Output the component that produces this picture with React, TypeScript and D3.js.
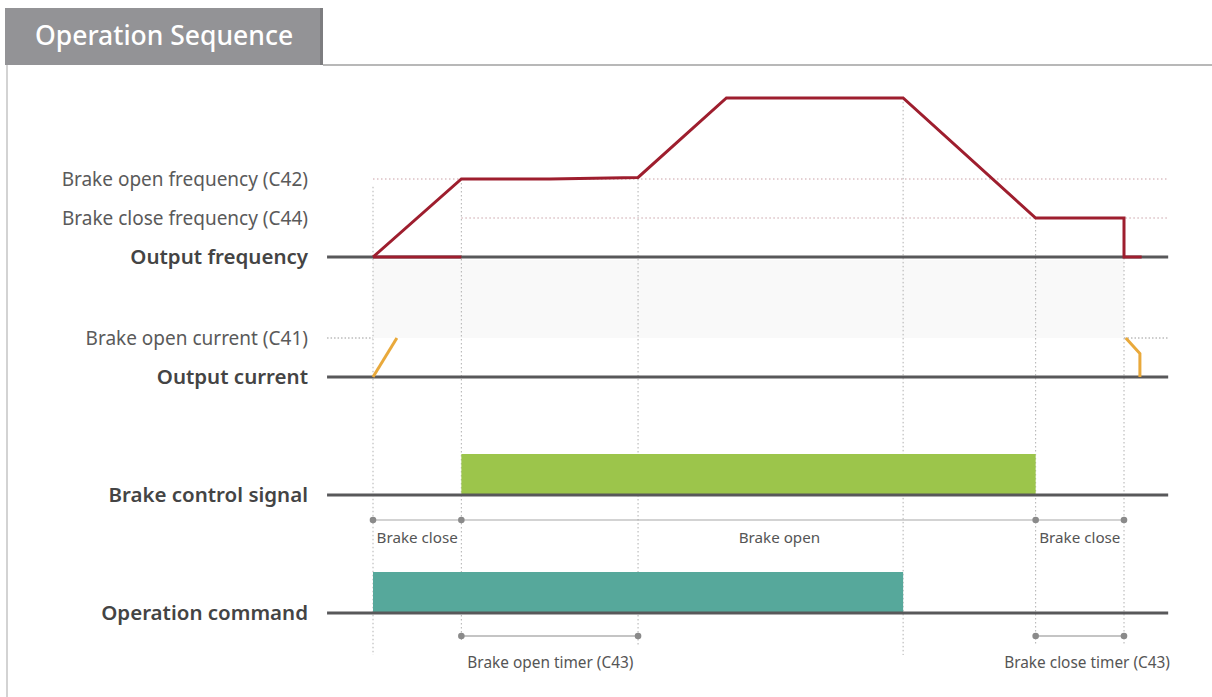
import React from "react";
import * as d3 from "d3";

// time events (arbitrary units)
const eventTimes = [0, 1, 3, 6, 7.5, 8.5];
// output frequency profile [time, level]
const freqProfile: [number, number][] = [[0, 0], [1, 1], [2, 1], [3, 1.02], [4, 2.04], [6, 2.04], [7.5, 0.5], [8.5, 0.5], [8.5, 0], [8.7, 0]];
const freqBase: [number, number][] = [[0, 0], [1, 0]];
// output current segments
const currentStart: [number, number][] = [[0, 0], [0.27, 1]];
const currentEnd: [number, number][] = [[8.52, 1], [8.68, 0.6], [8.68, 0]];
// signals [start, end]
const brakeSignal: [number, number] = [1, 7.5];
const opCommand: [number, number] = [0, 6];
const leftLabels = [
  { text: "Brake open frequency (C42)", row: "fC42", bold: false },
  { text: "Brake close frequency (C44)", row: "fC44", bold: false },
  { text: "Output frequency", row: "f0", bold: true },
  { text: "Brake open current (C41)", row: "iC41", bold: false },
  { text: "Output current", row: "i0", bold: true },
  { text: "Brake control signal", row: "b0", bold: true },
  { text: "Operation command", row: "o0", bold: true },
];
const stateMarkers = [0, 1, 7.5, 8.5];
const stateLabels = [
  { text: "Brake close", at: 0.5 },
  { text: "Brake open", at: 4.6 },
  { text: "Brake close", at: 8.0 },
];
const timerRanges = [
  { text: "Brake open timer (C43)", from: 1, to: 3 },
  { text: "Brake close timer (C43)", from: 7.5, to: 8.5 },
];

const FONT = "'Noto Sans', 'Open Sans', sans-serif";

export default function App() {
  const W = 1212, H = 697;
  const x = d3.scaleLinear().domain([0, 8.5]).range([373, 1124]);
  const yF = d3.scaleLinear().domain([0, 1]).range([257, 179]);
  const yI = d3.scaleLinear().domain([0, 1]).range([377, 338]);
  const rows: Record<string, number> = {
    fC42: yF(1), fC44: yF(0.5), f0: yF(0), iC41: yI(1), i0: yI(0), b0: 495, o0: 613,
  };
  const line = (ys: d3.ScaleLinear<number, number>) =>
    d3.line<[number, number]>().x((d) => x(d[0])).y((d) => ys(d[1]));
  const axisX0 = x(-0.52), axisX1 = x(9);
  const stateY = 520, timerY = 636;
  const vTop = [yF(0.9), yF(1), yF(1), yF(2.04), yF(0.5), yF(0.5)];
  const vBot = [655, 640, 645, 655, 645, 645];
  const dark = "#58585a";
  const red = "#9e1e2e";
  return (
    <svg width={W} height={H} style={{ position: "absolute", left: 0, top: 0, background: "#fff" }} fontFamily={FONT}>
      {/* header */}
      <rect x={5} y={8} width={318} height={57} fill="#939396" />
      <rect x={320} y={8} width={3} height={57} fill="#7d7d80" />
      <text x={35} y={45} fill="#fff" fontSize={26.5} fontWeight={500}>Operation Sequence</text>
      <line x1={323} x2={1212} y1={65} y2={65} stroke="#a0a0a0" strokeWidth={1.5} />
      <line x1={7} x2={7} y1={65} y2={697} stroke="#c4c4c4" strokeWidth={1.5} />

      {/* background band */}
      <rect x={x(0)} y={yF(0) + 3} width={x(8.5) - x(0)} height={yI(1) - yF(0) - 3} fill="#f9f9f9" />

      {/* dotted guides */}
      <line x1={x(0)} x2={axisX1} y1={yF(1)} y2={yF(1)} stroke="#c9a0a6" strokeWidth={1} strokeDasharray="1.5,2.5" />
      <line x1={x(1)} x2={axisX1} y1={yF(0.5)} y2={yF(0.5)} stroke="#c9a0a6" strokeWidth={1} strokeDasharray="1.5,2.5" />
      <line x1={axisX0} x2={x(0)} y1={yI(1)} y2={yI(1)} stroke="#999" strokeWidth={1} strokeDasharray="1.5,2" />
      <line x1={x(8.5)} x2={axisX1} y1={yI(1)} y2={yI(1)} stroke="#999" strokeWidth={1} strokeDasharray="1.5,2" />
      {eventTimes.map((t, i) => (
        <line key={i} x1={x(t)} x2={x(t)} y1={vTop[i]} y2={vBot[i]} stroke="#b0b0b0" strokeWidth={1} strokeDasharray="1.5,2.5" />
      ))}

      {/* signal blocks */}
      <rect x={x(brakeSignal[0])} y={454} width={x(brakeSignal[1]) - x(brakeSignal[0])} height={41} fill="#9cc54b" />
      <rect x={x(opCommand[0])} y={572} width={x(opCommand[1]) - x(opCommand[0])} height={41} fill="#56a89b" />

      {/* baselines */}
      {["f0", "i0", "b0", "o0"].map((r) => (
        <line key={r} x1={axisX0} x2={axisX1} y1={rows[r]} y2={rows[r]} stroke={dark} strokeWidth={3} />
      ))}

      {/* frequency */}
      <path d={line(yF)(freqBase) || ""} fill="none" stroke={red} strokeWidth={3} />
      <path d={line(yF)(freqProfile) || ""} fill="none" stroke={red} strokeWidth={3} strokeLinejoin="miter" />

      {/* current */}
      <path d={line(yI)(currentStart) || ""} fill="none" stroke="#e9a93b" strokeWidth={3} />
      <path d={line(yI)(currentEnd) || ""} fill="none" stroke="#e9a93b" strokeWidth={3} />

      {/* state markers */}
      <line x1={x(0)} x2={x(8.5)} y1={stateY} y2={stateY} stroke="#a8a8a8" strokeWidth={1.2} />
      {stateMarkers.map((t, i) => (
        <circle key={i} cx={x(t)} cy={stateY} r={3.3} fill="#8a8a8a" />
      ))}
      {stateLabels.map((s, i) => (
        <text key={i} x={x(s.at)} y={543} fontSize={15.2} fill="#555" textAnchor="middle">{s.text}</text>
      ))}

      {/* timers */}
      {timerRanges.map((r, i) => (
        <g key={i}>
          <line x1={x(r.from)} x2={x(r.to)} y1={timerY} y2={timerY} stroke="#b0b0b0" strokeWidth={1.5} />
          <circle cx={x(r.from)} cy={timerY} r={3.3} fill="#8a8a8a" />
          <circle cx={x(r.to)} cy={timerY} r={3.3} fill="#8a8a8a" />
        </g>
      ))}
      <text x={x(1) + 6} y={668} fontSize={15.4} fill="#555">{timerRanges[0].text}</text>
      <text x={1170} y={668} fontSize={15.4} fill="#555" textAnchor="end">{timerRanges[1].text}</text>

      {/* left labels */}
      {leftLabels.map((l, i) => (
        <text key={i} x={308} y={rows[l.row]} dy="0.35em" textAnchor="end"
          fontSize={l.bold ? 20.5 : 19} fontWeight={l.bold ? 600 : 400} fill={l.bold ? "#444" : "#5a5a5a"}>
          {l.text}
        </text>
      ))}
    </svg>
  );
}
